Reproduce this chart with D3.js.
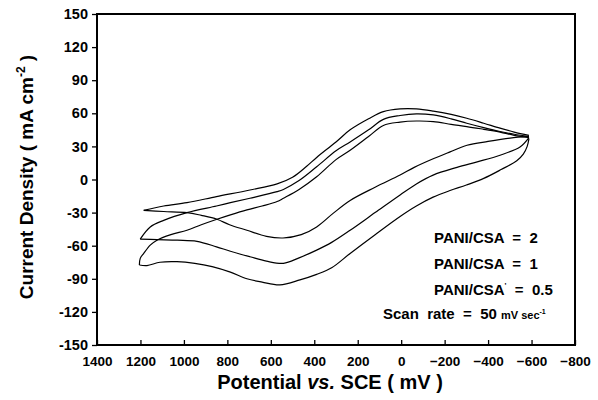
<!DOCTYPE html>
<html>
<head>
<meta charset="utf-8">
<script src="https://cdn.jsdelivr.net/npm/d3@7"></script>
<style>
  body { margin: 0; background: #fff; }
  svg { font-family: 'Liberation Sans', Arial, sans-serif; font-weight: bold; }
</style>
</head>
<body>
<script>
// potential (mV) vs current density (mA cm-2)
// each voltammogram is split in the forward and the return branch
var upperTop = [[1185,-28],[1093,-24],[986,-21],[850,-15.5],[696,-9.5],[571,-4],[500,2],[435,12],[389,20],[300,34],[235,45],[150,55],[82,61.5],[5,64],[-70,64],[-148,62],[-230,59],[-302,55.5],[-380,51],[-455,46.5],[-520,43],[-588,40]]
var lowerTop = [[-588,39],[-501,37.5],[-400,34.5],[-303,31],[-225,25],[-150,19],[-60,11],[5,4],[120,-7],[235,-19],[312,-30.5],[389,-43],[460,-50],[544,-53],[620,-51.5],[710,-46],[790,-41],[848,-36],[920,-32.5],[986,-30],[1093,-29],[1185,-28]]

var upperMid = [[1201,-54],[1155,-43],[1093,-37],[986,-30],[850,-24],[786,-21],[696,-17],[571,-11],[542,-9],[470,-1],[389,11.5],[300,26],[235,34],[150,45],[82,54.5],[5,58],[-70,59.5],[-148,58.5],[-230,55],[-302,51],[-380,47],[-455,43.5],[-520,41],[-588,39]]
var lowerMid = [[-588,38],[-547,29.5],[-455,22],[-350,16],[-257,11],[-147,4],[-70,-4],[5,-14],[120,-30],[235,-46],[320,-57],[389,-64],[470,-71],[542,-76],[620,-74],[696,-70],[786,-65],[850,-61],[940,-56],[1030,-55],[1124,-54.5],[1201,-54]]

var upperLow = [[1205,-77.5],[1201,-71.5],[1185,-67],[1155,-59.5],[1124,-55],[1060,-50],[986,-46],[920,-41],[848,-36],[786,-32],[710,-27.5],[640,-24],[571,-20],[542,-17],[470,-9],[389,2.5],[300,18],[235,26.5],[150,39],[82,49],[5,52],[-70,53],[-148,52.5],[-230,50],[-302,48],[-380,45.5],[-455,43],[-520,40],[-588,38]]
var lowerLow = [[-588,37],[-580,30],[-562,23],[-532,17],[-460,9],[-380,1],[-300,-5],[-225,-10],[-147,-16],[-70,-24],[5,-33.5],[120,-50],[235,-67],[320,-80],[389,-86],[466,-91],[558,-95.5],[640,-93],[710,-90],[786,-84],[870,-79],[950,-76],[1032,-74.5],[1110,-75],[1170,-78],[1205,-77.5]]

var xTicks = [1400, 1200, 1000, 800, 600, 400, 200, 0, -200, -400, -600, -800]
var yTicks = [150, 120, 90, 60, 30, 0, -30, -60, -90, -120, -150]
var ratios = ['2', '1', '0.5']

var branches = [upperTop, lowerTop, upperMid, lowerMid, upperLow, lowerLow]

// plot box, in page pixels
var margin = { top: 14, right: 23, bottom: 55, left: 97 },
  width = 598 - margin.left - margin.right,
  height = 400 - margin.top - margin.bottom

var x = d3.scaleLinear().domain([1400, -800]).range([0, width])
var y = d3.scaleLinear().domain([-150, 150]).range([height, 0])

var svg = d3.select('body')
  .append('svg')
  .attr('width', 598)
  .attr('height', 400)

var g = svg.append('g')
  .attr('transform', 'translate(' + margin.left + ',' + margin.top + ')')

// x axis: ticks point inwards
var xAxis = g.append('g')
  .attr('transform', 'translate(0,' + height + ')')
  .call(d3.axisBottom(x).tickValues(xTicks).tickSizeInner(-5).tickSizeOuter(0).tickPadding(11)
    .tickFormat(function(d) { return d < 0 ? '\u2212' + Math.abs(d) : d }))
xAxis.select('.domain').remove()
xAxis.selectAll('line').attr('stroke-width', 1.3)
xAxis.selectAll('text').attr('font-size', '13.5px').attr('font-family', null).attr('fill', '#000')

// y axis: ticks point outwards
var yAxis = g.append('g')
  .call(d3.axisLeft(y).tickValues(yTicks).tickSize(5).tickPadding(4)
    .tickFormat(function(d) { return d < 0 ? '-' + Math.abs(d) : d }))
yAxis.select('.domain').remove()
yAxis.selectAll('line').attr('stroke-width', 1.3)
yAxis.selectAll('text').attr('font-size', '14.5px').attr('font-family', null).attr('fill', '#000')

g.append('rect')
  .attr('width', width)
  .attr('height', height)
  .attr('fill', 'none')
  .attr('stroke', '#000')
  .attr('stroke-width', 2)

var line = d3.line()
  .x(function(d) { return x(d[0]) })
  .y(function(d) { return y(d[1]) })
  .curve(d3.curveCatmullRom.alpha(0.5))

g.selectAll('.cv')
  .data(branches)
  .enter()
  .append('path')
  .attr('class', 'cv')
  .attr('d', line)
  .attr('fill', 'none')
  .attr('stroke', '#000')
  .attr('stroke-width', 1.2)

// legend text
var legend = svg.append('g').attr('font-size', '15px').attr('fill', '#000')
ratios.forEach(function(r, i) {
  var t = legend.append('text')
    .attr('x', 434)
    .attr('y', 243 + i * 26)
    .style('white-space', 'pre')
  t.append('tspan').text('PANI/CSA')
  if (i === 2) t.append('tspan').attr('font-size', '8px').attr('dy', -7).text("'")
  t.append('tspan').attr('dy', i === 2 ? 7 : 0).text('  =  ' + r)
})

var scan = legend.append('text')
  .attr('x', 383)
  .attr('y', 319)
  .style('white-space', 'pre')
scan.append('tspan').text('Scan  rate  =  50 ')
scan.append('tspan').attr('font-size', '11px').text('mV sec')
scan.append('tspan').attr('font-size', '7px').attr('dy', -5).text('-1')

// axis titles
svg.append('text')
  .attr('x', 330)
  .attr('y', 389)
  .attr('text-anchor', 'middle')
  .attr('font-size', '20px')
  .style('white-space', 'pre')
  .call(function(t) {
    t.append('tspan').text('Potential ')
    t.append('tspan').attr('font-style', 'italic').text('vs.')
    t.append('tspan').text(' SCE ( mV )')
  })

svg.append('text')
  .attr('transform', 'translate(33,177) rotate(-90)')
  .attr('text-anchor', 'middle')
  .attr('font-size', '19px')
  .style('white-space', 'pre')
  .call(function(t) {
    t.append('tspan').text('Current Density ( mA cm')
    t.append('tspan').attr('font-size', '12px').attr('dy', -8).text('-2')
    t.append('tspan').attr('dy', 8).text(' )')
  })
</script>
</body>
</html>
